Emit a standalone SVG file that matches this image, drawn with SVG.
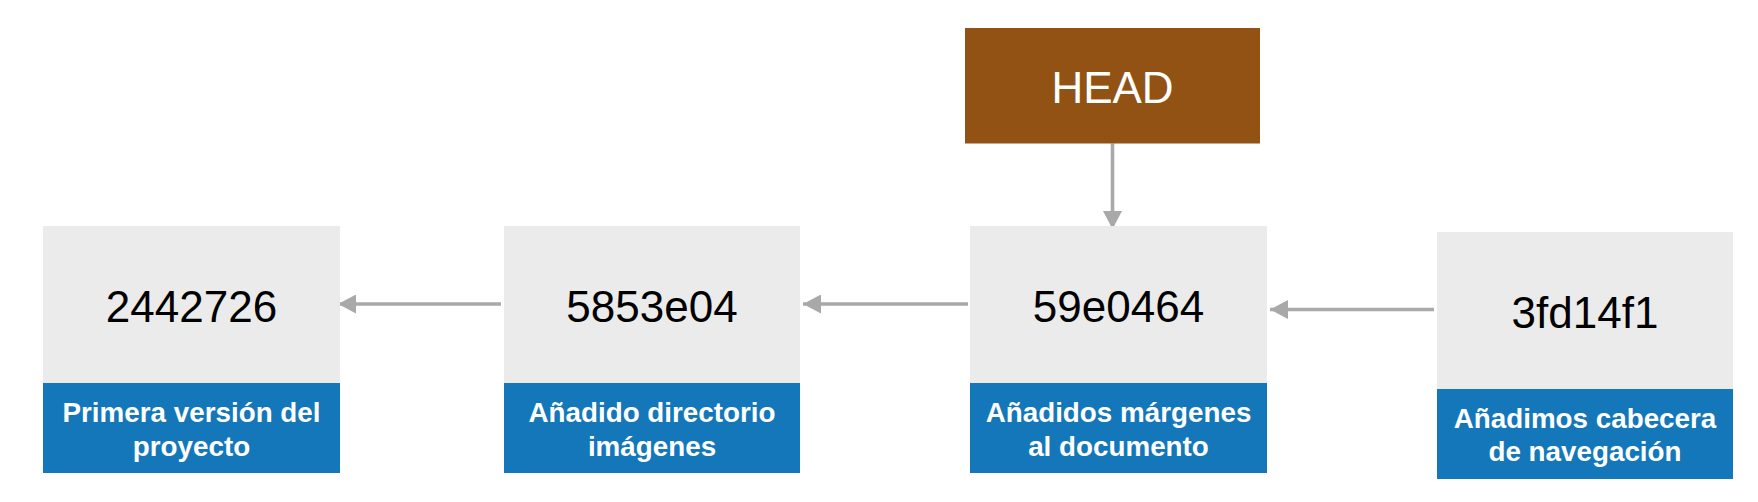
<svg xmlns="http://www.w3.org/2000/svg" width="1758" height="502" viewBox="0 0 1758 502">
<style>
.hash{fill:#EBEBEB}
.lbl{fill:#1477BA}
.num{font-family:"Liberation Sans",Arial,Helvetica,sans-serif;font-size:44px;fill:#000;text-anchor:middle}
.cap{font-family:"Liberation Sans",Arial,Helvetica,sans-serif;font-size:27.8px;font-weight:bold;fill:#fff;text-anchor:middle}
.head{font-family:"Liberation Sans",Arial,Helvetica,sans-serif;font-size:44px;fill:#fff;text-anchor:middle}
.conn{stroke:#A9A9A9;stroke-width:3.6;fill:none}
</style>
<defs>
<marker id="arr" viewBox="0 0 18 19" refX="18" refY="9.5" markerWidth="18" markerHeight="19" orient="auto" markerUnits="userSpaceOnUse">
<path d="M0,0 L18,9.5 L0,19 z" fill="#A9A9A9"/>
</marker>
</defs>
<rect width="1758" height="502" fill="#fff"/>
<g id="connectors">
<line class="conn" x1="501" y1="304" x2="338" y2="304" marker-end="url(#arr)"/>
<line class="conn" x1="968" y1="304" x2="803" y2="304" marker-end="url(#arr)"/>
<line class="conn" x1="1434" y1="309.5" x2="1270" y2="309.5" marker-end="url(#arr)"/>
<line class="conn" x1="1112.5" y1="143.5" x2="1112.5" y2="229" marker-end="url(#arr)"/>
</g>
<g id="node-2442726">
<rect class="hash" x="43" y="226" width="297" height="157"/>
<rect class="lbl" x="43" y="383" width="297" height="90"/>
<text class="num" x="191.5" y="321.5">2442726</text>
<text class="cap" x="191.5" y="421.5">Primera versión del</text>
<text class="cap" x="191.5" y="455.5">proyecto</text>
</g>
<g id="node-5853e04">
<rect class="hash" x="504" y="226" width="296" height="157"/>
<rect class="lbl" x="504" y="383" width="296" height="90"/>
<text class="num" x="652" y="321.5">5853e04</text>
<text class="cap" x="652" y="421.5">Añadido directorio</text>
<text class="cap" x="652" y="455.5">imágenes</text>
</g>
<g id="node-59e0464">
<rect class="hash" x="970" y="226" width="297" height="157"/>
<rect class="lbl" x="970" y="383" width="297" height="90"/>
<text class="num" x="1118.5" y="321.5">59e0464</text>
<text class="cap" x="1118.5" y="421.5">Añadidos márgenes</text>
<text class="cap" x="1118.5" y="455.5">al documento</text>
</g>
<g id="node-3fd14f1">
<rect class="hash" x="1437" y="232" width="296" height="157"/>
<rect class="lbl" x="1437" y="389" width="296" height="90"/>
<text class="num" x="1585" y="328">3fd14f1</text>
<text class="cap" x="1585" y="427.5">Añadimos cabecera</text>
<text class="cap" x="1585" y="461">de navegación</text>
</g>
<g id="node-HEAD">
<rect x="965" y="28" width="295" height="115.5" fill="#925213"/>
<text class="head" x="1112.5" y="102.5">HEAD</text>
</g>
</svg>
